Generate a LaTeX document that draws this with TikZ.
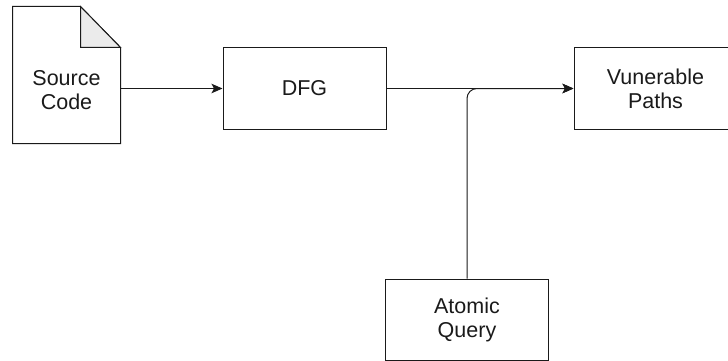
\documentclass[tikz,border=0pt]{standalone}
\usepackage{fontspec}
\setmainfont{Liberation Sans}
\usetikzlibrary{arrows.meta}
\definecolor{fold}{HTML}{EBEBEB}
\definecolor{ink}{HTML}{1A1A1A}
\begin{document}
\begin{tikzpicture}[x=1pt,y=-1pt,
  line width=1pt, draw=ink,
  txt/.style={font=\fontsize{21.5}{24}\selectfont, text=ink, align=center},
  box/.style={draw=ink, txt, minimum width=163pt, minimum height=81pt, inner sep=0pt},
  doc/.style={minimum width=107pt, minimum height=136pt, inner sep=0pt},
  link/.style={draw=ink, -{Stealth[length=11pt,width=9.5pt,inset=2.5pt]}}
]
\clip (0,0) rectangle (728,361);

% source document with folded corner
\node[doc] (src) at (66.5,75) {};
\draw[ink] (src.north west) -- ([xshift=-40pt]src.north east)
  -- ([yshift=-41pt]src.north east) -- (src.south east)
  -- (src.south west) -- cycle;
\filldraw[fill=fold, draw=ink] ([xshift=-40pt]src.north east)
  -- ([xshift=-40pt,yshift=-41pt]src.north east)
  -- ([yshift=-41pt]src.north east) -- cycle;
\node[txt] (srctext) at (66.5,90) {Source\\Code};

% process boxes
\node[box] (dfg) at (304.5,88.5) {\raisebox{-2pt}{DFG}};
\node[box] (vp) at (655.5,88.5) {Vunerable\\Paths};
\node[box] (aq) at (467,319.5) {Atomic\\Query};

% connectors
\draw[link] (src.east |- dfg.west) -- (dfg.west);
\draw[link] (dfg.east) -- (vp.west);
\draw[link, rounded corners=10pt] (aq.north) |- (vp.west);
\end{tikzpicture}
\end{document}
